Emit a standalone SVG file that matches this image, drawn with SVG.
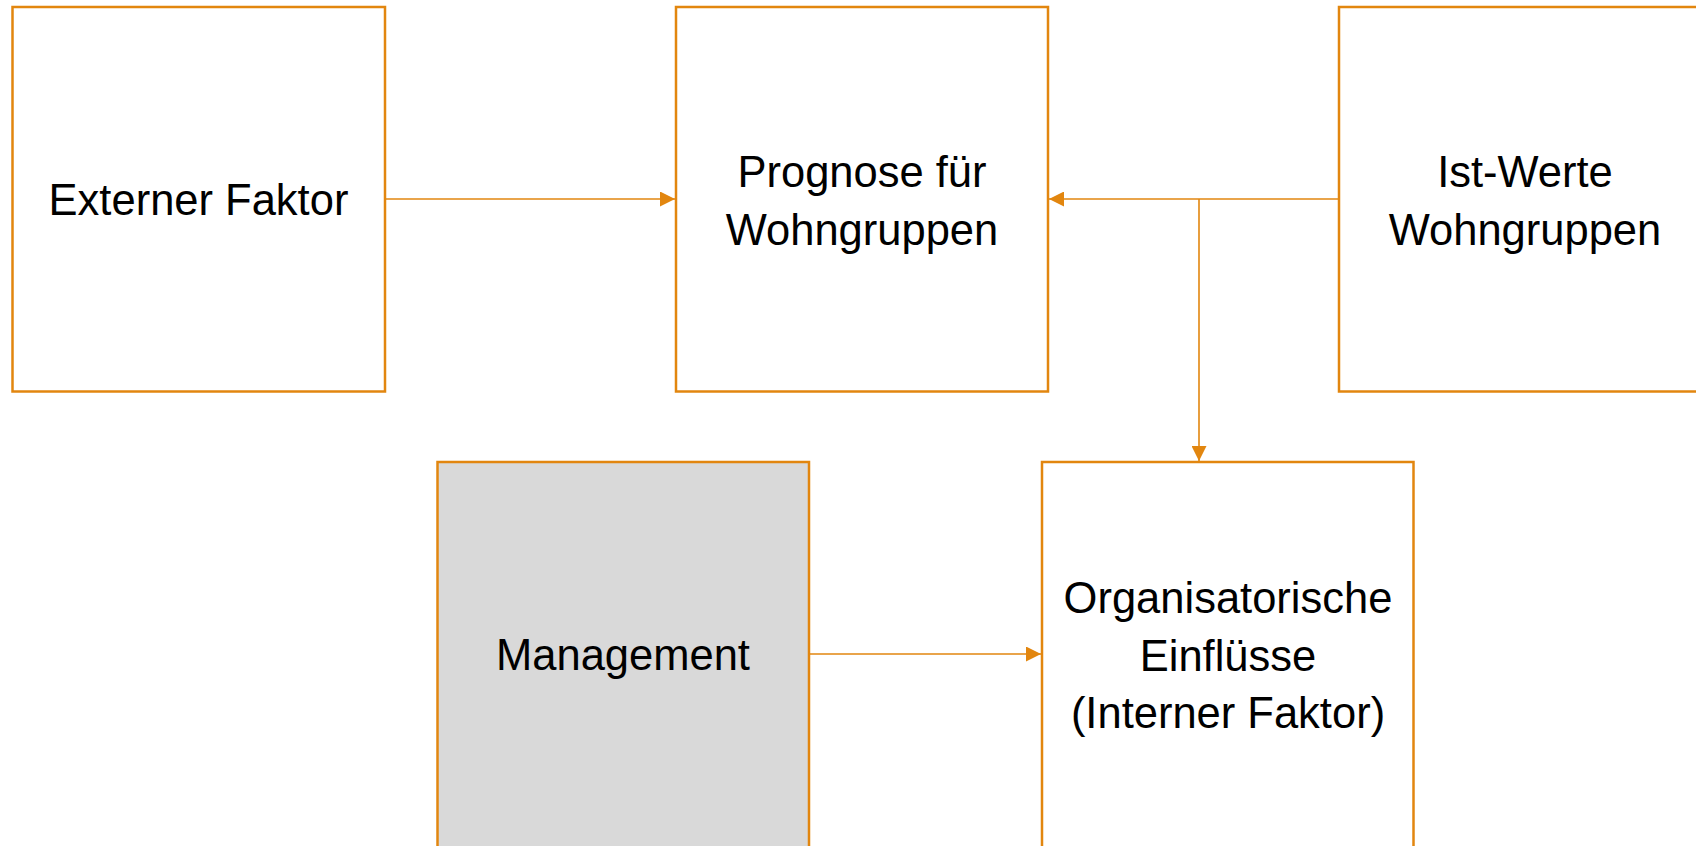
<svg xmlns="http://www.w3.org/2000/svg" width="1696" height="846" viewBox="0 0 1696 846">
  <defs>
    <style>
      .box { fill: #FFFFFF; stroke: #E2860F; stroke-width: 2.5; }
      .gray { fill: #D9D9D9; }
      .lbl { font-family: "Liberation Sans", Arial, sans-serif; font-size: 43.5px; fill: #000000; text-anchor: middle; }
      .conn { fill: none; stroke: #E2860F; stroke-width: 1.6; }
    </style>
    <marker id="arrow" viewBox="0 0 10 10" refX="10" refY="5" markerWidth="15" markerHeight="15" markerUnits="userSpaceOnUse" orient="auto">
      <path d="M0,0 L10,5 L0,10 Z" fill="#E2860F"/>
    </marker>
  </defs>
  <rect width="1696" height="846" fill="#FFFFFF"/>

  <g id="connectors">
    <line class="conn" x1="386" y1="199" x2="675" y2="199" marker-end="url(#arrow)"/>
    <line class="conn" x1="1338" y1="199" x2="1049" y2="199" marker-end="url(#arrow)"/>
    <line class="conn" x1="1199" y1="199" x2="1199" y2="461" marker-end="url(#arrow)"/>
    <line class="conn" x1="810" y1="654" x2="1041" y2="654" marker-end="url(#arrow)"/>
  </g>

  <g id="externer-faktor">
    <rect class="box" x="12.5" y="7" width="372.5" height="384.5"/>
    <text class="lbl" x="198.5" y="215">Externer Faktor</text>
  </g>

  <g id="prognose">
    <rect class="box" x="676" y="7" width="372" height="384.5"/>
    <text class="lbl" x="862" y="187">Prognose für</text>
    <text class="lbl" x="862" y="245">Wohngruppen</text>
  </g>

  <g id="ist-werte">
    <rect class="box" x="1339" y="7" width="372" height="384.5"/>
    <text class="lbl" x="1525" y="187">Ist-Werte</text>
    <text class="lbl" x="1525" y="245">Wohngruppen</text>
  </g>

  <g id="management">
    <rect class="box gray" x="437.5" y="462" width="371.5" height="386"/>
    <text class="lbl" x="623" y="670">Management</text>
  </g>

  <g id="organisatorische-einfluesse">
    <rect class="box" x="1042" y="462" width="371.5" height="386"/>
    <text class="lbl" x="1228" y="613">Organisatorische</text>
    <text class="lbl" x="1228" y="671">Einflüsse</text>
    <text class="lbl" x="1228" y="728">(Interner Faktor)</text>
  </g>
</svg>
